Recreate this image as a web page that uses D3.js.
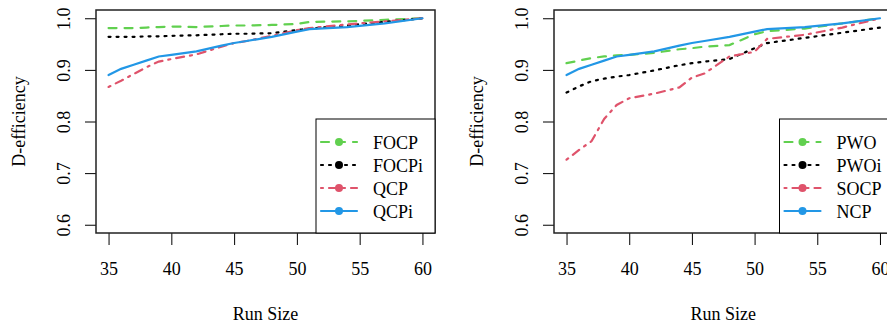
<html lang="en">
<head>
    <meta charset="UTF-8">
    <title>D-efficiency vs run size</title>
    <script src="https://cdn.jsdelivr.net/npm/d3@7"></script>
    <style>
        body { margin: 0; background: white; }
    </style>
</head>
<body>
<script>
    // run sizes shared by every series
    const runSizes = [35, 36, 37, 38, 39, 40, 42, 44, 45, 46, 48, 50, 51, 54, 57, 60];
    const xTicks = [35, 40, 45, 50, 55, 60];
    const yTicks = [0.6, 0.7, 0.8, 0.9, 1.0];

    // left panel
    const focp  = [0.981, 0.981, 0.981, 0.982, 0.983, 0.984, 0.983, 0.985, 0.986, 0.986, 0.987, 0.989, 0.993, 0.994, 0.997, 1.0];
    const focpi = [0.964, 0.964, 0.964, 0.965, 0.965, 0.966, 0.967, 0.969, 0.970, 0.970, 0.971, 0.977, 0.980, 0.986, 0.993, 1.0];
    const qcp   = [0.867, 0.879, 0.892, 0.905, 0.916, 0.921, 0.930, 0.945, 0.952, 0.956, 0.966, 0.977, 0.981, 0.988, 0.994, 1.0];
    const qcpi  = [0.890, 0.902, 0.910, 0.918, 0.926, 0.929, 0.936, 0.947, 0.952, 0.956, 0.964, 0.974, 0.979, 0.983, 0.990, 1.0];

    // right panel
    const pwo   = [0.913, 0.918, 0.923, 0.926, 0.928, 0.929, 0.933, 0.940, 0.942, 0.945, 0.948, 0.969, 0.975, 0.980, 0.990, 1.0];
    const pwoi  = [0.856, 0.868, 0.878, 0.883, 0.887, 0.890, 0.899, 0.909, 0.913, 0.916, 0.921, 0.942, 0.952, 0.962, 0.972, 0.982];
    const socp  = [0.726, 0.745, 0.762, 0.805, 0.832, 0.845, 0.854, 0.866, 0.885, 0.893, 0.926, 0.935, 0.960, 0.968, 0.982, 1.0];
    const ncp   = [0.890, 0.902, 0.910, 0.918, 0.926, 0.929, 0.936, 0.947, 0.952, 0.956, 0.964, 0.974, 0.979, 0.983, 0.990, 1.0];

    // line styles (R palette, lty 2 / 3 / 4 / 1)
    const colors = ['#61D04F', '#000000', '#DF536B', '#2297E6'];
    const dashes = ['8,8', '2,6', '2,6,8,6', null];
    const serif = '"Liberation Serif", "DejaVu Serif", serif';

    let svg = d3.select('body').append('svg')
        .attr('width', 887)
        .attr('height', 326)
        .style('font-family', serif);

    function drawPanel(left, width, legendWidth, names, values) {
        let top = 10, height = 223;
        let g = svg.append('g').attr('transform', `translate(${left},${top})`);

        let x = d3.scaleLinear().domain([34, 61]).range([0, width]);
        let y = d3.scaleLinear().domain([0.584, 1.016]).range([height, 0]);

        // x axis
        let xa = g.append('g')
            .attr('transform', `translate(0,${height})`)
            .call(d3.axisBottom(x).tickValues(xTicks).tickSize(12).tickPadding(0).tickFormat(d3.format('d')))
            .attr('font-family', null).attr('font-size', null);
        xa.select('.domain').remove();
        xa.selectAll('line').attr('stroke', '#000');
        xa.selectAll('text')
            .attr('y', 42).attr('dy', null)
            .attr('fill', '#000')
            .style('font-family', serif)
            .style('font-size', '18px');

        // y axis with rotated labels
        let ya = g.append('g')
            .call(d3.axisLeft(y).tickValues(yTicks).tickSize(11).tickFormat(d3.format('.1f')))
            .attr('font-family', null).attr('font-size', null);
        ya.select('.domain').remove();
        ya.selectAll('line').attr('stroke', '#000');
        ya.selectAll('text')
            .attr('x', null).attr('dy', null)
            .attr('text-anchor', 'middle')
            .attr('transform', 'translate(-26,0) rotate(-90)')
            .attr('fill', '#000')
            .style('font-family', serif)
            .style('font-size', '18px');

        // series lines
        let line = d3.line()
            .x(function (d, i) { return x(runSizes[i]); })
            .y(function (d) { return y(d); });

        g.selectAll('path.series')
            .data(values)
            .enter()
            .append('path')
            .attr('class', 'series')
            .attr('d', function (d) { return line(d); })
            .attr('fill', 'none')
            .attr('stroke', function (d, i) { return colors[i]; })
            .attr('stroke-width', 2.2)
            .attr('stroke-dasharray', function (d, i) { return dashes[i]; })
            .attr('stroke-linecap', 'round');

        // box
        g.append('rect')
            .attr('width', width).attr('height', height)
            .attr('fill', 'none')
            .attr('stroke', '#222')
            .attr('stroke-width', 1.5);

        // legend
        let lg = g.append('g')
            .attr('transform', `translate(${width - legendWidth},${height - 114})`);
        lg.append('rect')
            .attr('width', legendWidth).attr('height', 114)
            .attr('fill', 'white')
            .attr('stroke', '#000')
            .attr('stroke-width', 1);
        let item = lg.selectAll('g.item')
            .data(names)
            .enter()
            .append('g')
            .attr('class', 'item')
            .attr('transform', function (d, i) { return `translate(0,${23 + i * 23})`; });
        item.append('line')
            .attr('x1', 5).attr('x2', 41)
            .attr('stroke', function (d, i) { return colors[i]; })
            .attr('stroke-width', 2.2)
            .attr('stroke-dasharray', function (d, i) { return dashes[i]; })
            .attr('stroke-linecap', 'round');
        item.append('circle')
            .attr('cx', 23).attr('r', 4)
            .attr('fill', function (d, i) { return colors[i]; });
        item.append('text')
            .attr('x', 57).attr('y', 6.5)
            .text(function (d) { return d; })
            .style('font-family', serif)
            .style('font-size', '18px');

        // axis titles
        g.append('text')
            .attr('x', width / 2).attr('y', height + 87)
            .attr('text-anchor', 'middle')
            .text('Run Size')
            .style('font-family', serif)
            .style('font-size', '18px');
        g.append('text')
            .attr('transform', `translate(-71,${height / 2}) rotate(-90)`)
            .attr('text-anchor', 'middle')
            .text('D-efficiency')
            .style('font-family', serif)
            .style('font-size', '18px');
    }

    drawPanel(96, 339, 119, ['FOCP', 'FOCPi', 'QCP', 'QCPi'], [focp, focpi, qcp, qcpi]);
    drawPanel(554, 338.5, 113, ['PWO', 'PWOi', 'SOCP', 'NCP'], [pwo, pwoi, socp, ncp]);
</script>
</body>
</html>
